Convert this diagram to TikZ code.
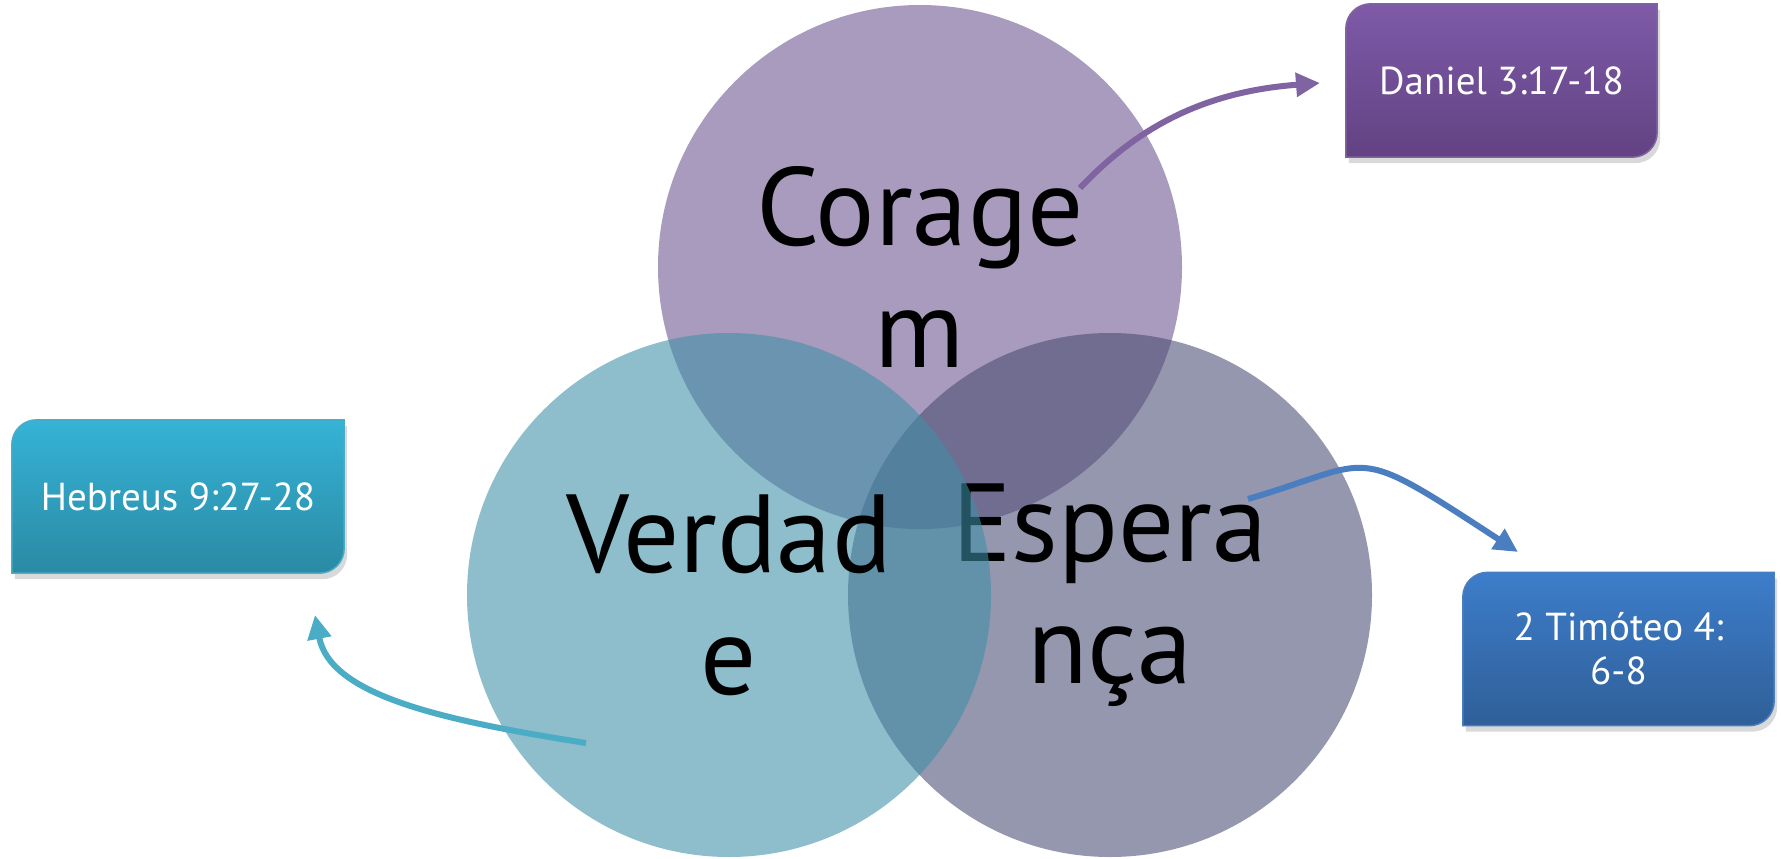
\documentclass[tikz,border=0pt]{standalone}
\usepackage{fontspec}
\setmainfont{PT Sans}
\usetikzlibrary{arrows.meta,calc,backgrounds}
\definecolor{topc}{RGB}{169,155,189}
\definecolor{rightc}{RGB}{71,76,114}
\definecolor{leftc}{RGB}{62,143,167}
\definecolor{purarrow}{RGB}{128,100,162}
\definecolor{bluarrow}{RGB}{74,126,192}
\definecolor{tealarrow}{RGB}{75,172,198}
\definecolor{dantop}{RGB}{126,90,168}
\definecolor{danbot}{RGB}{98,66,130}
\definecolor{timtop}{RGB}{61,125,202}
\definecolor{timbot}{RGB}{47,95,152}
\definecolor{hebtop}{RGB}{53,179,214}
\definecolor{hebbot}{RGB}{42,138,164}
\tikzset{
  venn/.style={circle, minimum size=524pt, inner sep=0pt, draw=none, align=center,
    font=\fontsize{111}{122}\selectfont, text=black},
  tagtext/.style={minimum width=311pt, minimum height=153pt, inner sep=0pt, align=center,
    text=white, font=\fontsize{39}{44}\selectfont},
  link/.style={line width=6pt, -{Triangle[length=24pt,width=23pt]}},
}
\newcommand\tagbox[4]{%
  \fill[black, opacity=0.15]
    ($(#1.south west)+(3,6)$) -- ($(#1.north west)+(3,31)$)
    .. controls ($(#1.north west)+(3,17)$) and ($(#1.north west)+(14,6)$) .. ($(#1.north west)+(28,6)$)
    -- ($(#1.north east)+(3,6)$) -- ($(#1.south east)+(3,-19)$)
    .. controls ($(#1.south east)+(3,-5)$) and ($(#1.south east)+(-8,6)$) .. ($(#1.south east)+(-22,6)$)
    -- cycle;
  \shade[top color=#2, bottom color=#3, draw=#4, line width=1.5pt]
    (#1.south west) -- ($(#1.north west)+(0,25)$)
    .. controls ($(#1.north west)+(0,11)$) and ($(#1.north west)+(11,0)$) .. ($(#1.north west)+(25,0)$)
    -- (#1.north east) -- ($(#1.south east)+(0,-25)$)
    .. controls ($(#1.south east)+(0,-11)$) and ($(#1.south east)+(-11,0)$) .. ($(#1.south east)+(-25,0)$)
    -- cycle;}
\begin{document}
\begin{tikzpicture}[x=1pt,y=-1pt]
\useasboundingbox (0,0) rectangle (1781,859);
% circles
\node[venn, fill=topc] (cor) at (920,267) {Corage\\m};
\node[venn, fill=rightc, fill opacity=0.58, text opacity=1] (esp) at (1110,595) {Espera\\nça};
\node[venn, fill=leftc, fill opacity=0.58, text opacity=1] (ver) at (729,595) {Verdad\\e};
% boxes
\node[tagtext] (dan) at (1501.5,80.5) {Daniel 3:17-18};
\node[tagtext] (tim) at (1618.5,649) {2 Timóteo 4:\\6-8};
\node[tagtext, minimum width=332pt] (heb) at (178,496.5) {Hebreus 9:27-28};
\begin{scope}[on background layer]
  \fill[white] (0,0) rectangle (1781,859);
  \tagbox{dan}{dantop}{danbot}{purarrow}
  \tagbox{tim}{timtop}{timbot}{bluarrow}
  \tagbox{heb}{hebtop}{hebbot}{tealarrow}
\end{scope}
% connectors
\coordinate (corout) at (1080,188);
\coordinate (danin) at (1320,83);
\coordinate (espout) at (1248,499);
\coordinate (timin) at (1518,552);
\coordinate (verout) at (586,743);
\coordinate (hebin) at (315,615);
\draw[link, purarrow] (corout) .. controls (1135,130) and (1200,92) .. (danin);
\draw[link, bluarrow] (espout) .. controls (1378,461) and (1348,441) .. (timin);
\draw[link, tealarrow] (verout) .. controls (440,720) and (330,695) .. (hebin);
\end{tikzpicture}
\end{document}
